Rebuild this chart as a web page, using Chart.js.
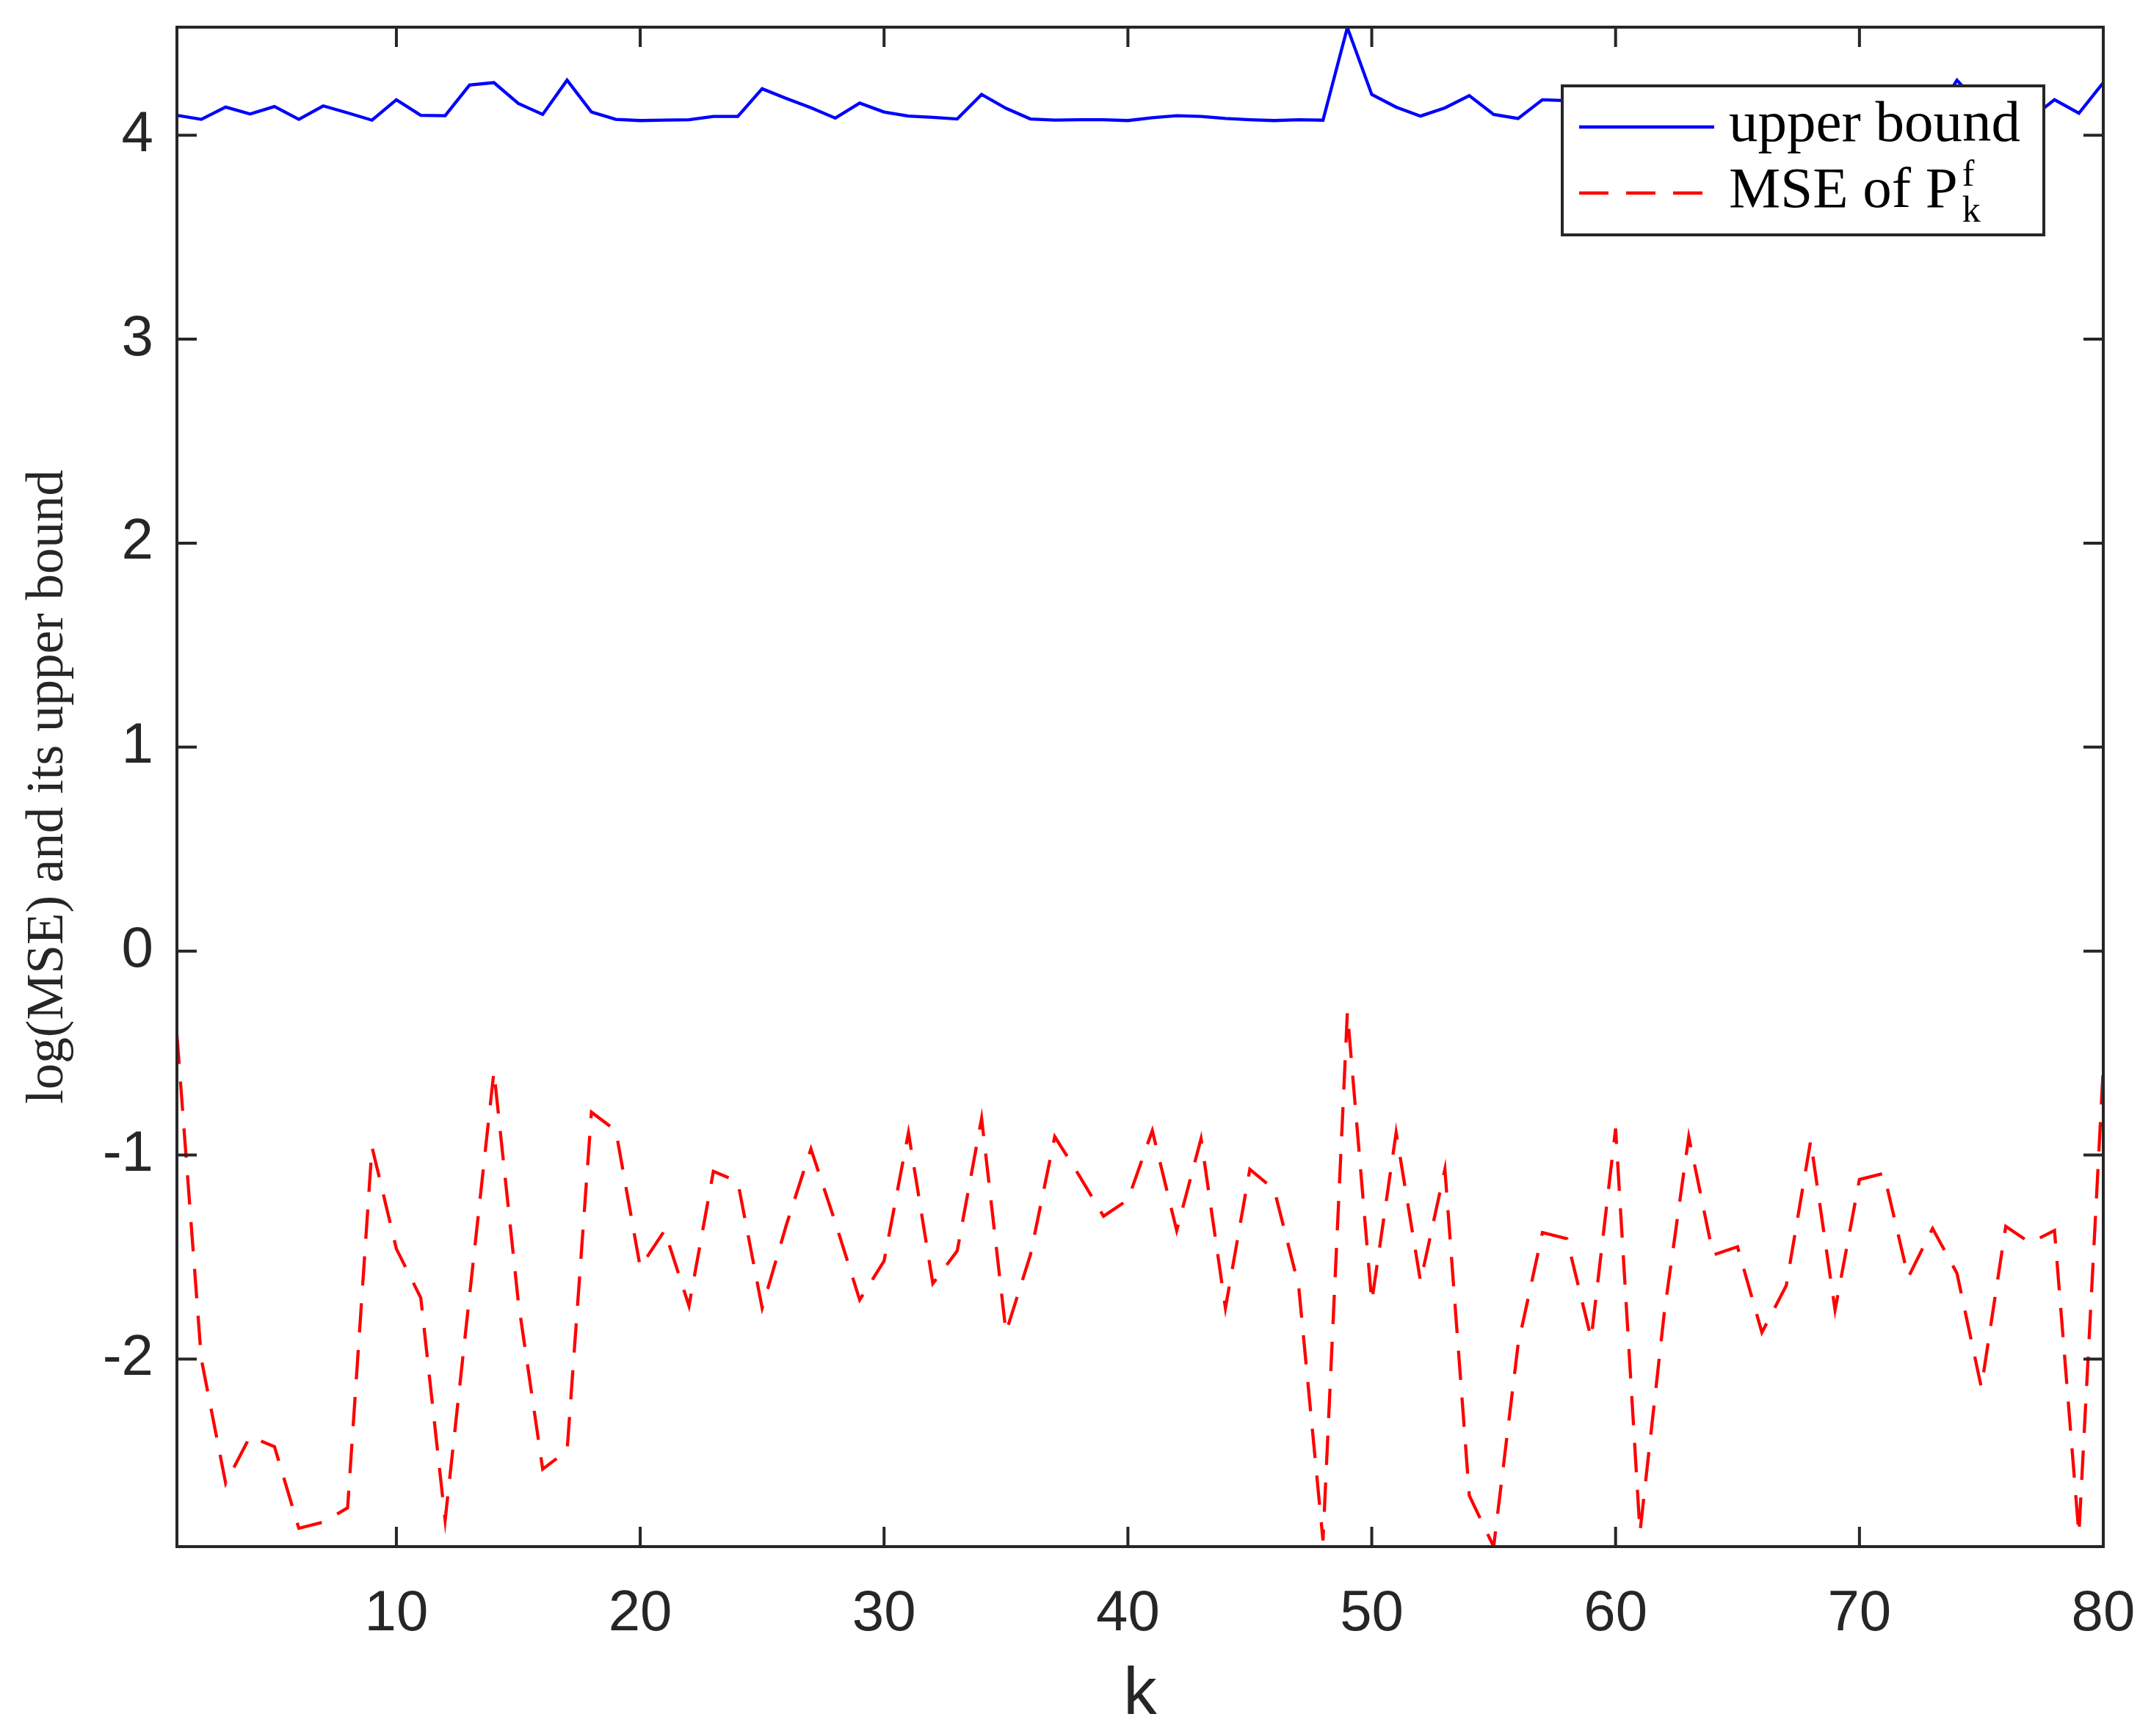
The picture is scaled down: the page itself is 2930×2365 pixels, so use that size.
<!DOCTYPE html>
<html>
<head>
<meta charset="utf-8">
<title>log(MSE) and its upper bound</title>
<script src="https://cdn.jsdelivr.net/npm/chart.js@4.4.1/dist/chart.umd.min.js"></script>
<style>
    html, body { margin: 0; padding: 0; background: #ffffff; }
    #wrap { width: 2930px; height: 2365px; }
</style>
</head>
<body>
<div id="wrap"><canvas id="mseChart" width="2930" height="2365"></canvas></div>
<script>
// ---- data ----
const steps = Array.from({ length: 80 }, (_, i) => i + 1);

const upperBound = [
    4.098, 4.078, 4.138, 4.104, 4.141, 4.078, 4.144, 4.110, 4.074, 4.174,
    4.098, 4.096, 4.246, 4.258, 4.156, 4.102, 4.270, 4.114, 4.078, 4.072,
    4.074, 4.076, 4.092, 4.092, 4.228, 4.180, 4.135, 4.084, 4.158, 4.114,
    4.094, 4.088, 4.080, 4.200, 4.132, 4.080, 4.074, 4.076, 4.076, 4.072,
    4.086, 4.096, 4.092, 4.082, 4.076, 4.072, 4.076, 4.074, 4.528, 4.200,
    4.138, 4.094, 4.134, 4.194, 4.102, 4.082, 4.174, 4.170, 4.120, 4.090,
    4.150, 4.100, 4.080, 4.130, 4.090, 4.160, 4.100, 4.080, 4.120, 4.090,
    4.140, 4.100, 4.080, 4.270, 4.140, 4.100, 4.080, 4.174, 4.108, 4.258
];

const mseValues = [
    -0.41, -2.00, -2.61, -2.38, -2.43, -2.83, -2.80, -2.73, -0.96, -1.46,
    -1.70, -2.79, -1.69, -0.59, -1.72, -2.54, -2.45, -0.79, -0.88, -1.55,
    -1.37, -1.74, -1.08, -1.13, -1.75, -1.34, -0.97, -1.33, -1.71, -1.52,
    -0.89, -1.63, -1.47, -0.82, -1.87, -1.49, -0.91, -1.10, -1.30, -1.22,
    -0.88, -1.37, -0.92, -1.75, -1.07, -1.17, -1.64, -2.89, -0.30, -1.72,
    -0.89, -1.62, -1.07, -2.67, -2.92, -1.93, -1.38, -1.41, -1.90, -0.87,
    -2.85, -1.77, -0.91, -1.49, -1.45, -1.87, -1.64, -0.93, -1.76, -1.12,
    -1.09, -1.60, -1.36, -1.58, -2.14, -1.35, -1.43, -1.37, -2.86, -0.57
];

const xTicks = [10, 20, 30, 40, 50, 60, 70, 80];
const yTicks = [-2, -1, 0, 1, 2, 3, 4];
const xRange = [1, 80];
const yRange = [-2.92, 4.53];

const seriesNames = ['upper bound', 'MSE of P'];
const xTitle = 'k';
const yTitle = 'log(MSE) and its upper bound';

// ---- look ----
const AXIS_COLOR = '#262626';
const BLUE = '#0000ff';
const RED = '#ff0000';
const TICK_LEN = 27;
const LINE_W = 4.3;
const DASH = [40, 24];

/**
 * Box around the axes plus inward tick marks on all four sides (MATLAB style)
 */
const frameAndTicks = {
    id: 'frameAndTicks',
    afterDatasetsDraw(chart) {
        const { ctx, chartArea: a } = chart;
        const xs = chart.scales.x;
        const ys = chart.scales.y;

        ctx.save();
        ctx.strokeStyle = AXIS_COLOR;
        ctx.lineWidth = 4;
        ctx.strokeRect(a.left, a.top, a.right - a.left, a.bottom - a.top);

        ctx.beginPath();
        xTicks.forEach(v => {
            const px = xs.getPixelForValue(v);
            ctx.moveTo(px, a.bottom);
            ctx.lineTo(px, a.bottom - TICK_LEN);
            ctx.moveTo(px, a.top);
            ctx.lineTo(px, a.top + TICK_LEN);
        });
        yTicks.forEach(v => {
            const py = ys.getPixelForValue(v);
            ctx.moveTo(a.left, py);
            ctx.lineTo(a.left + TICK_LEN, py);
            ctx.moveTo(a.right, py);
            ctx.lineTo(a.right - TICK_LEN, py);
        });
        ctx.stroke();
        ctx.restore();
    }
};

/**
 * Legend box in the top right corner, drawn over the lines
 * (the built-in legend sits under the datasets)
 */
const boxLegend = {
    id: 'boxLegend',
    afterDraw(chart) {
        const { ctx, chartArea: a } = chart;
        const right = a.right - 81;
        const top = a.top + 80;
        const w = 656;
        const h = 203;
        const left = right - w;

        ctx.save();
        ctx.fillStyle = '#ffffff';
        ctx.fillRect(left, top, w, h);
        ctx.strokeStyle = AXIS_COLOR;
        ctx.lineWidth = 4;
        ctx.strokeRect(left, top, w, h);

        // line samples
        const sx0 = left + 23;
        const sx1 = left + 207;
        ctx.lineWidth = LINE_W;
        ctx.strokeStyle = BLUE;
        ctx.beginPath();
        ctx.moveTo(sx0, top + 56);
        ctx.lineTo(sx1, top + 56);
        ctx.stroke();

        ctx.strokeStyle = RED;
        ctx.setLineDash(DASH);
        ctx.beginPath();
        ctx.moveTo(sx0, top + 146);
        ctx.lineTo(sx1 - 12, top + 146);
        ctx.stroke();
        ctx.setLineDash([]);

        // labels
        const tx = left + 227;
        ctx.fillStyle = '#000000';
        ctx.textAlign = 'left';
        ctx.textBaseline = 'alphabetic';
        ctx.font = '79px "Liberation Serif"';
        ctx.fillText(seriesNames[0], tx, top + 75);
        ctx.fillText(seriesNames[1], tx, top + 165);

        const px = tx + ctx.measureText(seriesNames[1]).width + 6;
        ctx.font = '50px "Liberation Serif"';
        ctx.fillText('f', px, top + 136);
        ctx.fillText('k', px, top + 185);
        ctx.restore();
    }
};

const mseChart = {
    _chart: null,

    toPoints(values) {
        return steps.map((k, i) => ({ x: k, y: values[i] }));
    },

    render() {
        const ctx = document.getElementById('mseChart');

        this._chart = new Chart(ctx, {
            type: 'line',
            data: {
                datasets: [
                    {
                        label: seriesNames[0],
                        data: this.toPoints(upperBound),
                        borderColor: BLUE,
                        borderWidth: LINE_W,
                        pointRadius: 0,
                        tension: 0
                    },
                    {
                        label: seriesNames[1],
                        data: this.toPoints(mseValues),
                        borderColor: RED,
                        borderWidth: LINE_W,
                        borderDash: DASH,
                        pointRadius: 0,
                        tension: 0
                    }
                ]
            },
            options: {
                responsive: false,
                devicePixelRatio: 1,
                animation: false,
                layout: { padding: { top: 37, right: 65, bottom: 0, left: 0 } },
                plugins: {
                    legend: { display: false },
                    tooltip: { enabled: false }
                },
                scales: {
                    x: {
                        type: 'linear',
                        min: xRange[0],
                        max: xRange[1],
                        afterBuildTicks: (scale) => { scale.ticks = xTicks.map(v => ({ value: v })); },
                        afterFit: (scale) => {
                            // fixed box, and no extra room for the end labels
                            scale.height = 258;
                            scale.paddingLeft = 0;
                            scale.paddingRight = 0;
                        },
                        grid: { drawOnChartArea: false, drawTicks: false },
                        border: { display: false },
                        ticks: {
                            color: AXIS_COLOR,
                            font: { family: 'Liberation Sans', size: 78 },
                            padding: 46,
                            maxRotation: 0,
                            autoSkip: false
                        },
                        title: {
                            display: true,
                            text: xTitle,
                            color: AXIS_COLOR,
                            font: { family: 'Liberation Sans', size: 91 },
                            padding: { top: 0, bottom: 0 }
                        }
                    },
                    y: {
                        type: 'linear',
                        min: yRange[0],
                        max: yRange[1],
                        afterBuildTicks: (scale) => { scale.ticks = yTicks.map(v => ({ value: v })); },
                        afterFit: (scale) => {
                            scale.width = 241;
                            scale.paddingTop = 0;
                            scale.paddingBottom = 0;
                        },
                        grid: { drawOnChartArea: false, drawTicks: false },
                        border: { display: false },
                        ticks: {
                            color: AXIS_COLOR,
                            font: { family: 'Liberation Sans', size: 78 },
                            padding: 32
                        },
                        title: {
                            display: true,
                            text: yTitle,
                            color: AXIS_COLOR,
                            font: { family: 'Liberation Serif', size: 71 },
                            padding: { top: 24, bottom: 0 }
                        }
                    }
                }
            },
            plugins: [frameAndTicks, boxLegend]
        });
    }
};

mseChart.render();
</script>
</body>
</html>
